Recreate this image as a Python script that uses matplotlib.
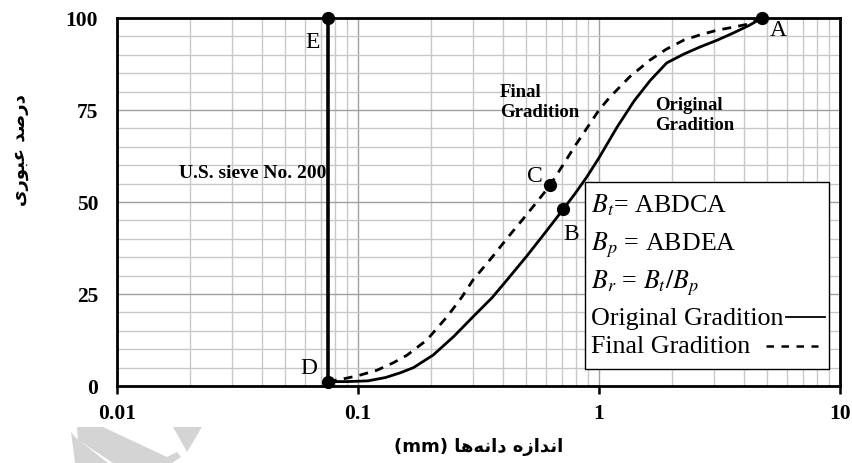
import matplotlib
matplotlib.use("Agg")
import matplotlib.pyplot as plt
from matplotlib.patches import Rectangle, Polygon
from matplotlib.lines import Line2D

plt.rcParams['font.family'] = ['Liberation Serif', 'DejaVu Serif']
plt.rcParams['mathtext.fontset'] = 'stix'

# ---------------- data ----------------
orig_size = [0.075, 0.09, 0.11, 0.13, 0.15, 0.17, 0.205, 0.25, 0.30, 0.36, 0.415,
             0.50, 0.60, 0.71, 0.80, 0.89, 1.0, 1.19, 1.40, 1.63, 1.91, 2.25,
             2.62, 3.1, 3.6, 4.2, 4.75]
orig_pass = [1.2, 1.2, 1.4, 2.3, 3.6, 5.0, 8.4, 13.5, 18.8, 24.0, 28.8,
             35.2, 41.8, 48.0, 52.5, 56.8, 62.0, 70.4, 77.5, 83.0, 87.8, 90.2,
             92.1, 94.0, 95.9, 98.0, 100.0]

final_size = [0.075, 0.085, 0.10, 0.12, 0.14, 0.16, 0.193, 0.234, 0.27, 0.30, 0.36,
              0.42, 0.50, 0.56, 0.626, 0.70, 0.80, 0.90, 1.0, 1.11, 1.34, 1.63,
              1.90, 2.25, 2.65, 3.1, 3.6, 4.2, 4.75]
final_pass = [1.2, 1.8, 2.8, 4.3, 6.3, 8.4, 12.5, 18.8, 24.2, 28.8, 35.0,
              40.5, 46.5, 50.5, 54.5, 59.5, 65.5, 70.5, 75.0, 78.5, 84.0, 88.6,
              91.5, 94.0, 95.5, 96.7, 97.5, 98.4, 100.0]

sieve_200 = 0.075
point_names = ['A', 'B', 'C', 'D', 'E']
point_x = [4.75, 0.71, 0.626, 0.075, 0.075]
point_y = [100.0, 48.0, 54.5, 1.2, 100.0]

x_ticks = [0.01, 0.1, 1, 10]
x_tick_labels = ['0.01', '0.1', '1', '10']
y_ticks = [0, 25, 50, 75, 100]
y_tick_labels = ['0', '25', '50', '75', '100']

legend_lines = [r'$B_t$= ABDCA', r'$B_p$ = ABDEA', r'$B_r$ = $B_t/B_p$',
                'Original Gradition', 'Final Gradition']

# Persian labels (presentation forms, visual order)
ylabel_txt = ''.join(chr(c) for c in
                     [0xFEEF, 0xFEAD, 0xFEEE, 0xFE92, 0xFECB, 0x20,
                      0xFEAA, 0xFEBB, 0xFEAD, 0xFEA9])
xlabel_txt = '(mm) ' + ''.join(chr(c) for c in
                               [0xFE8E, 0xFEEB, 0xFEEA, 0xFEE7, 0xFE8D, 0xFEA9, 0x20,
                                0xFEE9, 0xFEAF, 0xFE8D, 0xFEAA, 0xFEE7, 0xFE8D])

# ---------------- figure ----------------
W, H = 853, 463
fig = plt.figure(figsize=(W / 100, H / 100), dpi=100)
L, R, T, B = 117, 840, 18, 386
ax = fig.add_axes([L / W, 1 - B / H, (R - L) / W, (B - T) / H])


def fx(x):
    return x / W


def fy(y):
    return 1 - y / H


ax.set_xscale('log')
ax.set_xlim(0.01, 10)
ax.set_ylim(0, 100)

minor_x = [m * 10.0 ** e for e in (-2, -1, 0) for m in range(2, 10)]
ax.set_xticks(minor_x, minor=True)
ax.set_xticks(x_ticks, x_tick_labels)
ax.set_yticks(range(0, 101, 5), minor=True)
ax.set_yticks(y_ticks, y_tick_labels)

ax.grid(which='minor', color='#c8c8c8', lw=1.0, zorder=0)
ax.grid(which='major', color='#a0a0a0', lw=1.0, zorder=0)
ax.set_axisbelow(True)

ax.tick_params(axis='x', which='major', direction='out', length=6, width=1.8,
               labelsize=15.5, pad=7)
ax.tick_params(axis='x', which='minor', length=0)
ax.tick_params(axis='y', which='both', length=0, labelsize=15.5, pad=13.5)
for lab in ax.get_xticklabels() + ax.get_yticklabels():
    lab.set_fontweight('bold')

for s in ax.spines.values():
    s.set_linewidth(2.0)
    s.set_color('black')

# curves
ax.plot(orig_size, orig_pass, color='black', lw=2.0, zorder=3,
        solid_capstyle='round')
ax.plot(final_size, final_pass, color='black', lw=2.0, zorder=3,
        ls=(0, (3.2, 2.6)))
ax.plot([sieve_200, sieve_200], [point_y[3], 100], color='black', lw=2.6,
        zorder=3, clip_on=False)
ax.plot(point_x, point_y, 'o', color='black', ms=8.5, zorder=4, clip_on=False)

# point letters
letter_px = {'E': (313, 42), 'D': (309, 368), 'C': (535, 177),
             'B': (571, 235), 'A': (778, 31)}
for name in point_names:
    px, py = letter_px[name]
    fig.text(fx(px), fy(py), name, fontsize=17, ha='center', va='center')

fig.text(fx(253), fy(173), 'U.S. sieve No. 200', fontsize=14,
         fontweight='bold', ha='center', va='center')
fig.text(fx(500), fy(84), 'Final\nGradition', fontsize=13.5,
         fontweight='bold', ha='left', va='top', linespacing=1.2)
fig.text(fx(655), fy(97), 'Original\nGradition', fontsize=13.5,
         fontweight='bold', ha='left', va='top', linespacing=1.2)

# legend box
x0, x1, y0, y1 = 585, 829, 182, 369
fig.add_artist(Rectangle((fx(x0), fy(y1)), fx(x1) - fx(x0), fy(y0) - fy(y1),
                         transform=fig.transFigure, facecolor='white',
                         edgecolor='black', lw=1.0, zorder=5))
baselines = [212, 250, 288, 325, 353]
for txt, by in zip(legend_lines, baselines):
    fig.text(fx(591), fy(by), txt, fontsize=18.7, ha='left', va='baseline',
             zorder=6)
fig.add_artist(Line2D([fx(786), fx(825)], [fy(317), fy(317)],
                      transform=fig.transFigure, color='black', lw=1.3,
                      zorder=6))
fig.add_artist(Line2D([fx(766), fx(818)], [fy(346), fy(346)],
                      transform=fig.transFigure, color='black', lw=1.8,
                      ls=(0, (3, 3)), zorder=6))

# axis titles
fig.text(fx(20), fy(150), ylabel_txt, rotation=90, fontsize=13,
         fontweight='bold', family=['DejaVu Sans'], ha='center', va='center')
fig.text(fx(479), fy(447), xlabel_txt, fontsize=13, fontweight='bold',
         family=['DejaVu Sans'], ha='center', va='center')

# faint watermark shapes
wm1 = [(77, 427), (103, 427), (167, 457), (177, 452), (181, 457), (172, 463),
       (113, 463), (78, 440)]
wm2 = [(173, 427), (202, 427), (187, 452), (181, 441)]
wm3 = [(71, 432), (76, 438), (108, 463), (75, 463)]
for poly in (wm1, wm2, wm3):
    fig.add_artist(Polygon([(fx(a), fy(b)) for a, b in poly], closed=True,
                           transform=fig.transFigure, facecolor='#d4d4d4',
                           edgecolor='none', zorder=0))

fig.savefig('out.png', dpi=100)
